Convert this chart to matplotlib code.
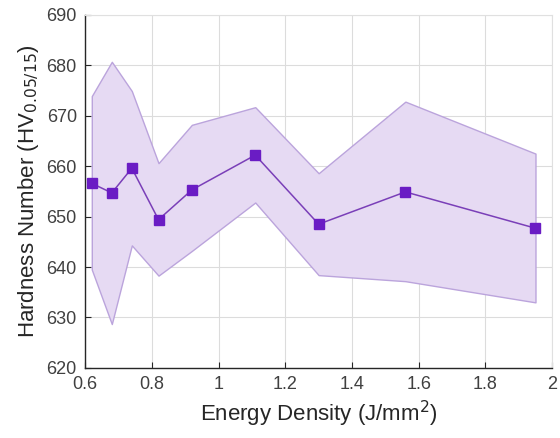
import numpy as np
import matplotlib.pyplot as plt

plt.rcParams['font.family'] = ['Liberation Sans', 'DejaVu Sans']

# Datos
energy = [0.62, 0.68, 0.74, 0.82, 0.92, 1.11, 1.30, 1.56, 1.95]
hardness = [656.6, 654.7, 659.6, 649.4, 655.3, 662.2, 648.5, 654.9, 647.7]
upper = [673.9, 680.7, 674.9, 660.6, 668.2, 671.7, 658.6, 672.8, 662.5]
lower = [639.5, 628.7, 644.3, 638.3, 643.2, 652.8, 638.4, 637.2, 633.0]

xticks = [0.6, 0.8, 1.0, 1.2, 1.4, 1.6, 1.8, 2.0]
xticklabels = ['0.6', '0.8', '1', '1.2', '1.4', '1.6', '1.8', '2']
yticks = [620, 630, 640, 650, 660, 670, 680, 690]

fig = plt.figure(figsize=(5.6, 4.38), dpi=100)
ax = fig.add_axes([0.152, 0.160, 0.834, 0.806])

ax.fill_between(energy, lower, upper, facecolor='#e6daf3', edgecolor='#bba4dc',
                linewidth=1, zorder=2)
ax.plot(energy, hardness, '-', color='#7a3fb8', linewidth=1.1, zorder=3)
ax.plot(energy, hardness, 's', color='#6a1cc4', markersize=7, zorder=4)

ax.set_xlim(0.6, 2.0)
ax.set_ylim(620, 690)
ax.set_xticks(xticks)
ax.set_xticklabels(xticklabels)
ax.set_yticks(yticks)
ax.grid(True, color='#dcdcdc', linewidth=0.8, zorder=1)
ax.set_axisbelow(True)

for s in ['top', 'right']:
    ax.spines[s].set_color('#e0e0e0')
for s in ['left', 'bottom']:
    ax.spines[s].set_color('#262626')
    ax.spines[s].set_linewidth(1.0)

ax.tick_params(direction='in', length=4, labelsize=13, colors='#262626',
               labelcolor='#404040', top=False, right=False, pad=6)

ax.set_xlabel('Energy Density (J/mm$^2$)', fontsize=16, color='#262626', labelpad=4)
ax.set_ylabel('Hardness Number (HV$_{0.05/15}$)', fontsize=16, color='#262626', labelpad=4)

plt.savefig('out.png', dpi=100)
